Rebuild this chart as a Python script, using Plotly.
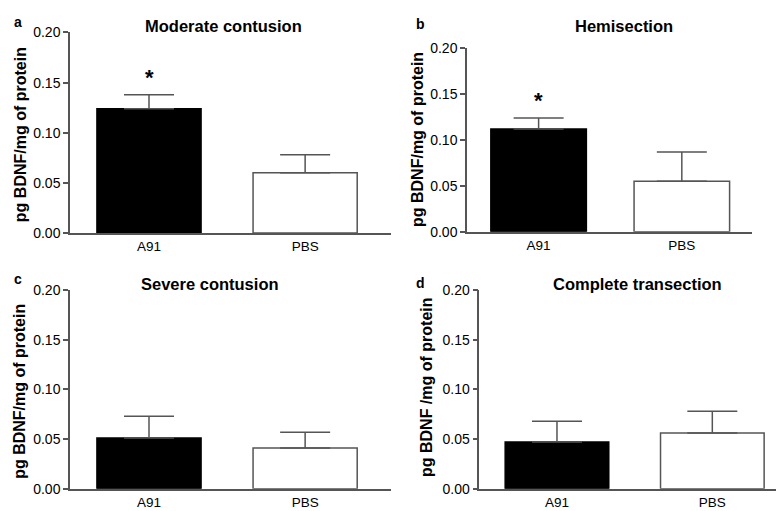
import plotly.graph_objects as go

W, H = 784, 511

categories = ["A91", "PBS"]
titles = ["Moderate contusion", "Hemisection", "Severe contusion", "Complete transection"]
letters = ["a", "b", "c", "d"]
ylabels = ["pg BDNF/mg of protein", "pg BDNF/mg of protein",
           "pg BDNF/mg of protein", "pg BDNF /mg of protein"]
means = [[0.124, 0.060], [0.112, 0.055], [0.051, 0.041], [0.047, 0.056]]
errors = [[0.014, 0.018], [0.012, 0.032], [0.022, 0.016], [0.021, 0.022]]
significant = [[True, False], [True, False], [False, False], [False, False]]
tickvals = [0.0, 0.05, 0.10, 0.15, 0.20]
ticktext = ["0.00", "0.05", "0.10", "0.15", "0.20"]

# pixel layout of each panel: (x_left, x_right, y_top(0.20), y_bottom(0))
boxes = [(62, 383, 17, 224), (459, 744, 33.3, 222.7),
         (62, 383, 283, 488), (471.3, 782, 283, 488)]
xranges = [[-0.506, 1.55], [-0.5, 1.49], [-0.506, 1.55], [-0.5, 1.5]]
title_pos = [(216, 10), (616, 10), (202, 277), (629, 277)]
letter_pos = [(4, 6), (406, 8), (4, 272), (406, 276)]
ylab_pos = [(12, 123), (410, 128), (12, 388), (418, 383)]

FONT = "Arial, Liberation Sans"
fig = go.Figure()
AX = "#555555"
annotations = []
for i in range(4):
    xl, xr, yt, yb = boxes[i]
    sfx = "" if i == 0 else str(i + 1)
    fig.add_trace(go.Bar(
        x=categories, y=means[i],
        marker=dict(color=["black", "white"],
                    line=dict(color=["black", AX], width=1.5)),
        width=0.667,
        error_y=dict(type="data", array=errors[i], arrayminus=[0, 0], symmetric=False,
                     color=AX, thickness=1.5, width=25),
        xaxis="x" + sfx, yaxis="y" + sfx, showlegend=False,
    ))
    fig.layout["xaxis" + sfx] = dict(
        domain=[xl / W, xr / W], range=xranges[i], anchor="y" + sfx,
        showline=True, linecolor=AX, linewidth=1.5, ticks="", ticklen=0, showgrid=False,
        tickfont=dict(family=FONT, size=13.5, color="black"),
        zeroline=False, fixedrange=True,
    )
    fig.layout["yaxis" + sfx] = dict(
        domain=[(H - yb) / H, (H - yt) / H], range=[0, 0.2], anchor="x" + sfx,
        showline=True, linecolor=AX, linewidth=1.5, ticks="outside", ticklen=5,
        tickcolor=AX, tickwidth=1.5, tickvals=tickvals, ticktext=ticktext,
        showgrid=False, zeroline=False,
        tickfont=dict(family=FONT, size=14, color="black"),
    )
    for j, sig in enumerate(significant[i]):
        if sig:
            annotations.append(dict(
                x=categories[j], y=means[i][j] + errors[i][j], xref="x" + sfx, yref="y" + sfx,
                text="<b>*</b>", showarrow=False, yanchor="bottom", yshift=3,
                font=dict(family=FONT, size=22, color="black")))
    tx, ty = title_pos[i]
    annotations.append(dict(x=tx / W, y=1 - ty / H, xref="paper", yref="paper",
                            text="<b>" + titles[i] + "</b>", showarrow=False,
                            xanchor="center", yanchor="middle",
                            font=dict(family=FONT, size=16.5, color="black")))
    lx, ly = letter_pos[i]
    annotations.append(dict(x=lx / W, y=1 - ly / H, xref="paper", yref="paper",
                            text="<b>" + letters[i] + "</b>", showarrow=False,
                            xanchor="left", yanchor="middle",
                            font=dict(family=FONT, size=14, color="black")))
    ax_, ay_ = ylab_pos[i]
    annotations.append(dict(x=ax_ / W, y=1 - ay_ / H, xref="paper", yref="paper",
                            text="<b>" + ylabels[i] + "</b>", showarrow=False, textangle=-90,
                            xanchor="center", yanchor="middle",
                            font=dict(family=FONT, size=16, color="black")))

fig.update_layout(
    width=W, height=H, margin=dict(l=0, r=0, t=0, b=0),
    paper_bgcolor="white", plot_bgcolor="white",
    annotations=annotations, bargap=0.33,
)
fig.write_html("out.html")
